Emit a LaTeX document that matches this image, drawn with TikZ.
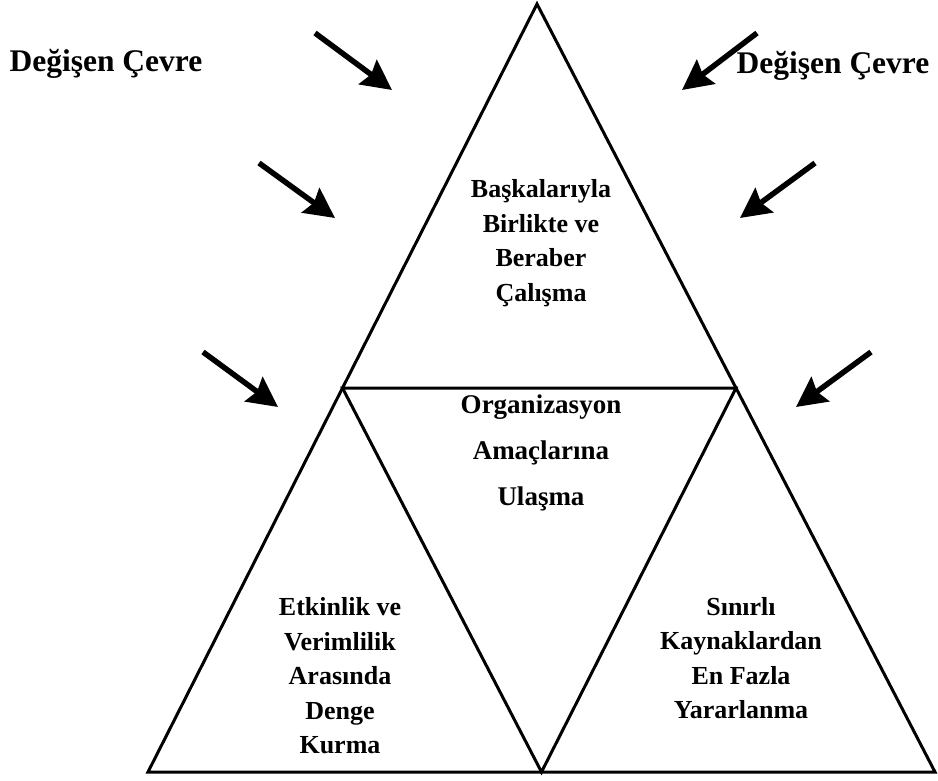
\documentclass[tikz,border=0pt]{standalone}
\usepackage{fontspec}
\setmainfont{Liberation Serif}[BoldFont={Liberation Serif Bold}]
\usetikzlibrary{arrows.meta}
\begin{document}
\begin{tikzpicture}[x=1pt,y=-1pt,
  edge/.style={line width=3pt, line join=miter},
  push/.style={line width=5.5pt, -{Stealth[length=30pt,width=30pt,inset=4pt]}},
  envtext/.style={font=\bfseries\fontsize{31.5}{36}\selectfont, inner sep=0pt},
  areatext/.style={font=\bfseries\fontsize{26}{34.5}\selectfont, align=center, inner sep=0pt},
  goaltext/.style={font=\bfseries\fontsize{27}{46}\selectfont, align=center, inner sep=0pt}]
\useasboundingbox (0,0) rectangle (938,780);
% outer triangle and the inverted inner triangle
\coordinate (apex) at (537,4);
\coordinate (bl) at (148,772);
\coordinate (br) at (935,772);
\coordinate (ml) at (342.5,388);
\coordinate (mr) at (736,388);
\coordinate (bm) at (541.5,772);
\draw[edge] (apex) -- (bl) -- (br) -- cycle;
\draw[edge] (ml) -- (mr) -- (bm) -- cycle;
% environment labels
\node[envtext] (envL) at (106,64) {Değişen Çevre};
\node[envtext] (envR) at (833,66) {Değişen Çevre};
% pressure arrows
\coordinate (a1s) at (315,33);  \coordinate (a1e) at (392,90);
\coordinate (a2s) at (757,33);  \coordinate (a2e) at (682,90);
\coordinate (a3s) at (259,163); \coordinate (a3e) at (335,218);
\coordinate (a4s) at (815,163); \coordinate (a4e) at (740,218);
\coordinate (a5s) at (203,352); \coordinate (a5e) at (278,407);
\coordinate (a6s) at (871,352); \coordinate (a6e) at (796,407);
\foreach \i in {1,...,6} \draw[push] (a\i s) -- (a\i e);
% area labels
\node[areatext] (top) at (541,243) {Başkalarıyla\\Birlikte ve\\Beraber\\Çalışma};
\node[goaltext] (mid) at (541,453) {Organizasyon\\Amaçlarına\\Ulaşma};
\node[areatext] (left) at (340,676) {Etkinlik ve\\Verimlilik\\Arasında\\Denge\\Kurma};
\node[areatext] (right) at (741,658) {Sınırlı\\Kaynaklardan\\En Fazla\\Yararlanma};
\end{tikzpicture}
\end{document}
